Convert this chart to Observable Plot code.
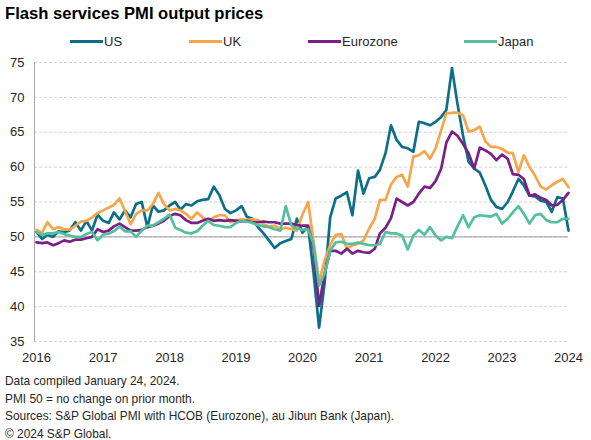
<!DOCTYPE html>
<html><head><meta charset="utf-8">
<script src="https://cdn.jsdelivr.net/npm/d3@7"></script>
<script src="https://cdn.jsdelivr.net/npm/@observablehq/plot@0.6"></script>
<style>
body{margin:0;background:#fff;font-family:Arial,"Liberation Sans",sans-serif;}
#wrap{position:relative;width:591px;height:440px;overflow:hidden;background:#fff;}
#title{position:absolute;left:5px;top:4px;font-size:16.6px;font-weight:bold;color:#000;white-space:nowrap;}
.leg{position:absolute;top:34px;font-size:13px;color:#262626;display:flex;align-items:center;white-space:nowrap;}
.sw{display:inline-block;width:33px;height:3px;margin-right:1px;}
#chart{position:absolute;left:0;top:55px;}
#foot{position:absolute;left:5px;top:373px;font-size:11.9px;line-height:17.5px;color:#262626;white-space:nowrap;}
</style></head>
<body>
<div id="wrap">
  <div id="title">Flash services PMI output prices</div>
  <div id="legend"></div>
  <div id="chart"></div>
  <div id="foot"></div>
</div>
<script>
// ---- data ----
const startMonth = "2016-01";
const seriesNames = ["US", "UK", "Eurozone", "Japan"];
const seriesColors = ["#0d6f87", "#f5a64b", "#7a1f86", "#52c09f"];
const yTicks = [35, 40, 45, 50, 55, 60, 65, 70, 75];
const yearLabels = [2016, 2017, 2018, 2019, 2020, 2021, 2022, 2023, 2024];

const us = [
  50.7, 49.7, 50.3, 50.0, 50.8, 50.7, 50.9, 52.1, 50.9, 52.3, 50.9, 53.2,
  52.3, 52.0, 53.5, 52.5, 53.8, 52.8, 54.7, 55.0, 51.4, 54.5, 53.6, 53.8,
  54.5, 55.0, 53.9, 54.7, 54.5, 55.1, 55.3, 55.4, 57.2, 56.0, 54.0, 53.4,
  53.8, 54.4, 52.9, 52.6, 51.4, 50.5, 49.5, 48.4, 49.1, 49.4, 49.7, 52.6,
  50.6, 51.5, 45.0, 37.0, 43.3, 52.8, 55.5, 55.9, 56.4, 53.1, 59.5, 56.2,
  58.4, 58.6, 59.6, 62.0, 66.0, 63.9, 62.9, 62.7, 62.2, 66.5, 66.3, 66.0,
  66.5, 67.2, 68.2, 74.2, 69.1, 64.5, 60.8, 59.8, 59.2, 57.4, 55.3, 54.3,
  54.0, 55.0, 56.5, 58.3, 57.4, 55.9, 55.8, 55.2, 55.0, 53.6, 55.7, 55.5,
  50.9
];
const uk = [
  51.0, 50.6, 52.1, 51.1, 51.4, 51.1, 51.0, 51.6, 52.2, 52.3, 52.8, 53.4,
  53.8, 54.2, 54.6, 55.5, 53.7, 51.8, 53.3, 53.8, 53.8, 54.7, 56.3, 54.7,
  53.8, 54.0, 53.8, 53.3, 52.6, 53.5, 52.8, 52.3, 52.8, 53.1, 53.1, 52.1,
  52.4, 52.5, 52.4, 52.5, 52.4, 51.8, 51.5, 51.6, 51.1, 51.3, 51.1, 50.9,
  53.2, 55.0, 49.5, 43.5, 46.6, 48.8, 50.3, 50.4, 48.3, 48.8, 49.0, 49.5,
  51.2, 52.6, 55.3, 55.3, 57.5, 58.6, 58.9, 57.2, 61.5, 61.7, 62.3, 61.2,
  62.7, 65.3, 67.7, 67.8, 67.8, 67.4, 65.1, 65.3, 65.8, 63.7, 62.9, 62.9,
  62.6, 62.1, 62.0, 59.3, 61.7, 60.0, 58.8, 57.2, 56.8, 57.4, 57.9, 58.3,
  57.1
];
const eurozone = [
  49.2, 49.1, 49.2, 48.8, 49.1, 49.5, 49.3, 49.6, 49.6, 49.8, 50.0, 51.1,
  50.7, 50.9, 51.5, 51.9, 51.4, 50.9, 50.9, 51.0, 51.4, 51.6, 51.9, 52.3,
  53.0, 53.3, 53.1, 52.4, 52.0, 52.0, 52.3, 52.6, 52.3, 52.4, 52.3, 52.4,
  52.3, 52.2, 52.3, 52.1, 52.1, 52.2, 52.1, 52.1, 51.9, 51.9, 51.9, 51.7,
  51.6, 51.6, 48.5, 40.1, 44.7, 48.0, 48.0, 47.6, 48.3, 47.6, 48.0, 47.8,
  47.7, 48.3, 50.5, 51.3, 52.7, 55.5, 55.0, 54.5, 55.0, 56.2, 57.2, 57.0,
  58.0, 59.8, 63.5, 65.1, 64.5, 63.3, 62.0, 59.8, 62.8, 62.4, 61.9, 61.0,
  61.8, 61.2, 59.0, 58.9, 58.3, 55.9, 56.1, 55.6, 55.3, 54.5, 54.6, 55.3,
  56.3
];
const japan = [
  50.7, 50.3, 50.5, 50.5, 50.7, 50.4, 50.2, 50.0, 50.0, 50.4, 50.7, 49.5,
  50.3, 50.5, 50.8, 51.5, 50.8, 50.8, 50.0, 50.9, 51.6, 51.6, 52.1, 52.6,
  53.2, 51.3, 51.0, 50.6, 50.5, 50.8, 51.6, 52.3, 51.7, 51.6, 51.4, 51.4,
  52.0, 52.3, 52.2, 52.0, 51.7, 51.5, 51.4, 51.1, 50.9, 54.4, 51.6, 51.2,
  51.0, 51.1, 49.0, 43.0, 44.7, 48.0, 49.2, 49.3, 49.0, 49.0, 49.2, 49.0,
  48.8, 48.8, 49.0, 50.7, 50.5, 50.5, 50.2, 48.2, 50.2, 51.0, 50.3, 51.4,
  50.2, 49.5, 50.0, 49.8, 51.5, 53.1, 51.4, 52.8, 53.1, 53.0, 52.9, 53.3,
  51.9, 52.6, 53.5, 54.4, 53.3, 51.9, 53.1, 53.3, 52.4, 52.1, 52.1, 52.6,
  52.6
];
const footLines = [
  "Data compiled January 24, 2024.",
  "PMI 50 = no change on prior month.",
  "Sources: S&P Global PMI with HCOB (Eurozone), au Jibun Bank (Japan).",
  "\u00A9 2024 S&P Global."
];

// ---- layout (style only) ----
const legendLeft = [70, 189, 308, 464];

// ---- build ----
const seriesValues = [us, uk, eurozone, japan];
const start = d3.utcParse("%Y-%m")(startMonth);
const table = [];
seriesNames.forEach((name, i) => {
  seriesValues[i].forEach((v, j) => {
    table.push({series: name, date: d3.utcMonth.offset(start, j), value: v});
  });
});
const lastDate = d3.utcMonth.offset(start, us.length - 1);
const yearTicks = yearLabels.map(y => new Date(Date.UTC(y, 0, 1)));

const legend = document.getElementById("legend");
seriesNames.forEach((name, i) => {
  const item = document.createElement("div");
  item.className = "leg";
  item.style.left = legendLeft[i] + "px";
  const sw = document.createElement("span");
  sw.className = "sw";
  sw.style.background = seriesColors[i];
  item.appendChild(sw);
  item.appendChild(document.createTextNode(name));
  legend.appendChild(item);
});

const foot = document.getElementById("foot");
footLines.forEach(t => {
  const d = document.createElement("div");
  d.textContent = t;
  foot.appendChild(d);
});

const chart = Plot.plot({
  width: 591,
  height: 315,
  marginLeft: 34,
  marginRight: 23,
  marginTop: 7,
  marginBottom: 29,
  insetLeft: 2,
  x: {type: "utc", domain: [start, lastDate]},
  y: {domain: [35, 75]},
  color: {domain: seriesNames, range: seriesColors},
  style: {fontFamily: "Arial, 'Liberation Sans', sans-serif", fontSize: "13px", color: "#262626", background: "white"},
  marks: [
    Plot.gridY(yTicks, {stroke: "#d4d4d4", strokeOpacity: 1, strokeDasharray: "3,2"}),
    Plot.ruleY([50], {stroke: "#9a9a9a", strokeWidth: 1}),
    Plot.frame({anchor: "left", stroke: "#a8a8a8"}),
    Plot.axisY(yTicks, {tickSize: 0, tickPadding: 10, label: null}),
    Plot.axisX(yearTicks, {tickSize: 0, tickPadding: 11, tickFormat: d3.utcFormat("%Y"), label: null}),
    Plot.line(table, {x: "date", y: "value", z: "series", stroke: "series", strokeWidth: 2.7, strokeLinejoin: "round"})
  ]
});
document.getElementById("chart").appendChild(chart);
</script>
</body></html>
